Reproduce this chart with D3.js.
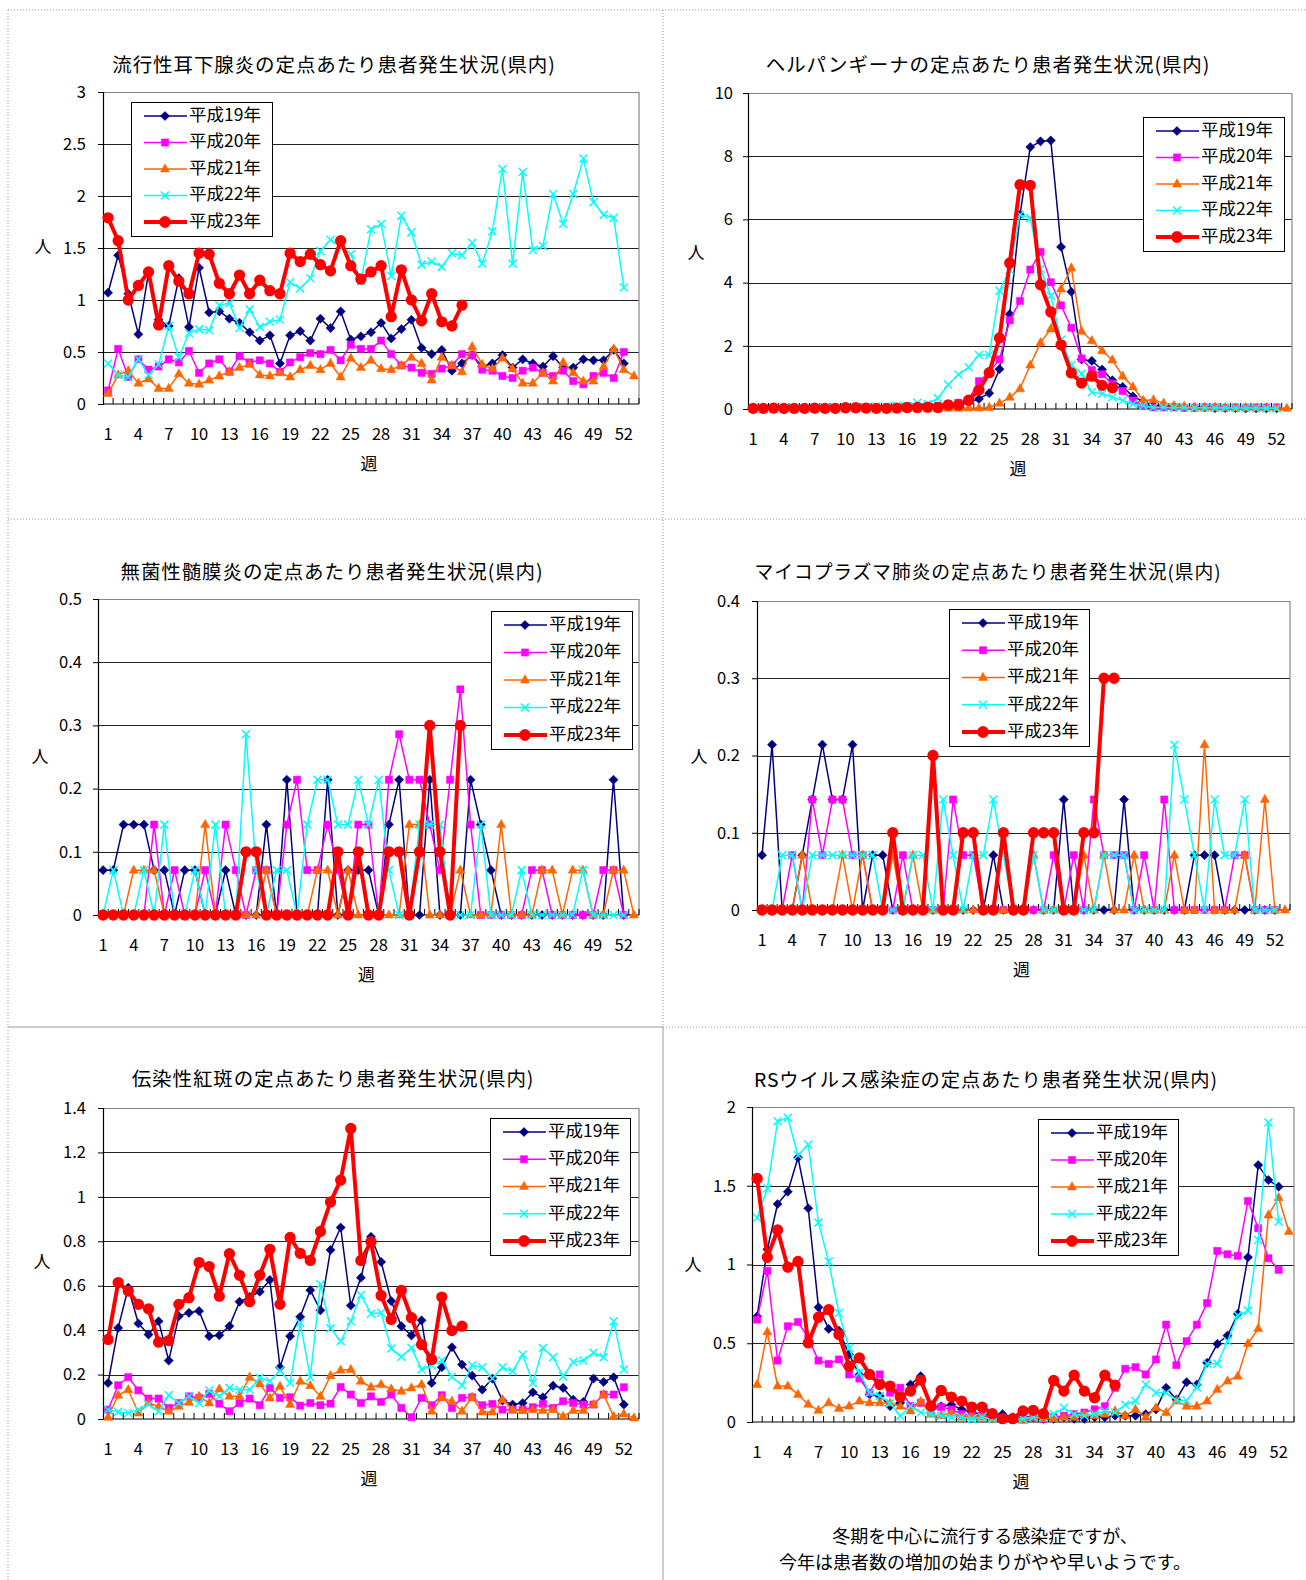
<!DOCTYPE html>
<html><head><meta charset="utf-8">
<script src="https://cdn.jsdelivr.net/npm/d3@7"></script>
<style>
body{margin:0;background:#fff;}
svg text{font-family:"Noto Sans CJK JP","Noto Sans",sans-serif;fill:#000;}
</style></head><body>
<svg id="c" width="1306" height="1580"></svg>
<script>
// ---------- data ----------
const weeks = d3.range(1, 54);
const xTickWeeks = [1,4,7,10,13,16,19,22,25,28,31,34,37,40,43,46,49,52];
const years = ["平成19年","平成20年","平成21年","平成22年","平成23年"];

// 流行性耳下腺炎
const mumpsH19 = [1.07,1.43,1.06,0.67,1.26,0.81,0.75,1.21,0.74,1.31,0.88,0.89,0.82,0.78,0.69,0.61,0.66,0.39,0.66,0.70,0.61,0.82,0.73,0.89,0.62,0.65,0.69,0.78,0.63,0.72,0.81,0.54,0.48,0.52,0.32,0.39,0.47,0.36,0.39,0.47,0.35,0.43,0.39,0.36,0.46,0.35,0.35,0.43,0.42,0.42,0.52,0.39];
const mumpsH20 = [0.13,0.53,0.26,0.43,0.33,0.36,0.43,0.40,0.51,0.30,0.39,0.43,0.31,0.46,0.40,0.42,0.39,0.31,0.40,0.45,0.49,0.48,0.52,0.42,0.57,0.53,0.53,0.61,0.48,0.37,0.35,0.30,0.29,0.34,0.37,0.48,0.47,0.33,0.32,0.27,0.25,0.32,0.35,0.30,0.27,0.32,0.22,0.19,0.27,0.30,0.25,0.50];
const mumpsH21 = [0.10,0.28,0.32,0.20,0.24,0.15,0.15,0.29,0.20,0.19,0.23,0.27,0.31,0.35,0.38,0.28,0.27,0.30,0.26,0.33,0.37,0.33,0.39,0.26,0.44,0.35,0.42,0.34,0.33,0.37,0.45,0.39,0.23,0.45,0.37,0.31,0.55,0.38,0.34,0.44,0.34,0.20,0.20,0.30,0.22,0.40,0.30,0.22,0.22,0.36,0.53,0.33,0.27];
const mumpsH22 = [0.39,0.28,0.26,0.43,0.28,0.38,0.75,0.45,0.68,0.72,0.71,0.95,0.97,0.73,0.91,0.74,0.79,0.81,1.17,1.11,1.21,1.47,1.58,1.51,1.44,1.18,1.68,1.73,1.23,1.81,1.65,1.34,1.37,1.32,1.45,1.43,1.55,1.35,1.66,2.26,1.35,2.23,1.48,1.52,2.02,1.73,2.02,2.36,1.94,1.82,1.79,1.12];
const mumpsH23 = [1.79,1.57,1.0,1.14,1.27,0.76,1.33,1.18,1.06,1.45,1.44,1.16,1.06,1.24,1.06,1.19,1.09,1.06,1.45,1.37,1.44,1.34,1.28,1.57,1.33,1.20,1.27,1.33,0.84,1.29,1.0,0.8,1.06,0.79,0.75,0.95];

// ヘルパンギーナ
const herpH19 = [0,0,0,0,0.02,0.02,0,0.02,0.02,0.03,0.03,0.02,0.02,0.02,0.03,0.03,0.05,0.05,0.05,0.08,0.12,0.2,0.32,0.5,1.26,3.0,6.15,8.29,8.47,8.5,5.13,3.71,1.57,1.52,1.25,0.91,0.7,0.4,0.24,0.12,0.1,0.08,0.06,0.05,0.05,0.03,0.03,0.03,0.02,0.02,0.02,0.02];
const herpH20 = [0,0,0,0,0,0.02,0,0.02,0.02,0.02,0.03,0.03,0.02,0.02,0.03,0.05,0.05,0.05,0.1,0.15,0.2,0.3,0.88,1.15,1.57,2.81,3.42,4.41,4.97,4.01,3.28,2.57,1.6,1.23,1.1,0.8,0.57,0.27,0.12,0.05,0.05,0.05,0.04,0.04,0.05,0.05,0.04,0.05,0.04,0.05,0.05,0.05];
const herpH21 = [0,0,0,0,0,0,0,0,0,0,0,0,0,0,0,0,0,0,0,0.02,0.02,0.03,0.03,0.05,0.18,0.37,0.64,1.39,2.1,2.53,3.8,4.46,2.46,2.16,1.84,1.55,1.04,0.7,0.27,0.29,0.18,0.1,0.08,0.05,0.04,0.05,0.04,0.03,0.04,0.03,0.04,0.03,0.02];
const herpH22 = [0.03,0.03,0.03,0.03,0.03,0.03,0.03,0.05,0.05,0.05,0.05,0.05,0.08,0.08,0.1,0.1,0.2,0.16,0.34,0.77,1.09,1.32,1.71,1.71,3.74,4.4,6.15,6.04,4.44,3.58,2.19,1.39,1.12,0.53,0.48,0.37,0.27,0.16,0.1,0.05,0.05,0.04,0.05,0.04,0.04,0.03,0.04,0.03,0.03,0.03,0.02,0.02];
const herpH23 = [0.02,0.02,0.03,0.02,0.02,0.02,0.03,0.02,0.02,0.04,0.04,0.03,0.02,0.02,0.03,0.05,0.05,0.06,0.05,0.13,0.13,0.28,0.6,1.15,2.25,4.62,7.1,7.08,3.93,3.07,2.03,1.14,0.82,1.04,0.75,0.67];

// 無菌性髄膜炎
const menH19 = [0.071,0.071,0.143,0.143,0.143,0.071,0.071,0,0.071,0.071,0,0,0.071,0,0,0,0.143,0,0.214,0,0,0,0.214,0,0.071,0.071,0.071,0,0.143,0.214,0,0,0.214,0,0,0,0.214,0.143,0.071,0,0,0,0,0,0,0,0,0,0,0,0.214,0];
const menH20 = [0,0,0,0,0,0.143,0,0.071,0,0,0.071,0,0.143,0.071,0,0.071,0.071,0,0.143,0.214,0.071,0.071,0.143,0.071,0,0.143,0.143,0,0.214,0.286,0.214,0.214,0.143,0.071,0.214,0.357,0.143,0,0,0,0,0,0.071,0.071,0,0,0,0,0,0.071,0.071,0];
const menH21 = [0,0,0,0.071,0.071,0.071,0,0,0,0,0.143,0,0,0,0,0,0.071,0,0,0,0,0.071,0.071,0,0.071,0,0,0,0,0,0.143,0.143,0,0,0,0.071,0,0,0,0.143,0,0,0,0.071,0.071,0,0.071,0.071,0,0,0.071,0.071,0];
const menH22 = [0,0.071,0,0,0.071,0,0.143,0,0,0.071,0,0.143,0,0,0.286,0.071,0,0.071,0.071,0,0.143,0.214,0.214,0.143,0.143,0.214,0.143,0.214,0.071,0,0,0.143,0.143,0.143,0,0,0,0.143,0,0,0,0.071,0,0,0,0,0,0.071,0,0,0,0];
const menH23 = [0,0,0,0,0,0,0,0,0,0,0,0,0,0,0.1,0.1,0,0,0,0,0,0,0,0.1,0,0.1,0,0,0.1,0.1,0,0.1,0.3,0.1,0,0.3];

// マイコプラズマ肺炎
const mycoH19 = [0.071,0.214,0,0,0.071,0.143,0.214,0.143,0.143,0.214,0,0.071,0.071,0,0,0,0,0,0,0,0,0,0,0.071,0,0,0,0,0,0,0.143,0,0,0,0,0,0.143,0,0,0,0,0,0,0.071,0.071,0.071,0,0,0,0,0,0];
const mycoH20 = [0,0,0,0.071,0,0.143,0.071,0.143,0.143,0.071,0.071,0,0,0,0.071,0,0,0,0,0.143,0.071,0.071,0,0,0,0,0,0,0,0.071,0,0.071,0,0.143,0.071,0.071,0.071,0,0.071,0,0.143,0,0,0,0,0,0,0.071,0.071,0,0,0];
const mycoH21 = [0,0,0,0,0.071,0,0,0,0.071,0,0.071,0,0,0.071,0,0.071,0,0,0,0,0,0,0,0,0,0,0,0.071,0,0,0,0,0.071,0,0.071,0,0,0.071,0,0,0,0.071,0,0,0.214,0,0,0,0.071,0,0.143,0,0];
const mycoH22 = [0,0,0.071,0.071,0,0.071,0.071,0.071,0.071,0.071,0.071,0.071,0,0,0,0.071,0.071,0,0.143,0.071,0,0.071,0.071,0.143,0.071,0,0,0.071,0,0,0,0,0,0,0.071,0.071,0.071,0,0,0,0,0.214,0.143,0.071,0,0.143,0.071,0.071,0.143,0,0,0];
const mycoH23 = [0,0,0,0,0,0,0,0,0,0,0,0,0,0.1,0,0,0,0.2,0,0,0.1,0.1,0,0,0.1,0,0,0.1,0.1,0.1,0,0,0.1,0.1,0.3,0.3];

// 伝染性紅斑
const eryH19 = [0.162,0.41,0.591,0.43,0.38,0.44,0.263,0.463,0.478,0.486,0.373,0.377,0.418,0.528,0.55,0.573,0.626,0.233,0.373,0.46,0.58,0.489,0.761,0.862,0.511,0.636,0.82,0.707,0.531,0.418,0.376,0.444,0.162,0.233,0.323,0.245,0.195,0.132,0.182,0.083,0.065,0.072,0.12,0.098,0.15,0.14,0.087,0.077,0.182,0.167,0.188,0.065];
const eryH20 = [0.042,0.152,0.188,0.129,0.092,0.092,0.05,0.072,0.102,0.095,0.113,0.069,0.035,0.072,0.092,0.062,0.14,0.095,0.098,0.06,0.072,0.062,0.069,0.144,0.11,0.072,0.102,0.077,0.11,0.05,0.008,0.095,0.062,0.107,0.05,0.095,0.098,0.062,0.068,0.042,0.042,0.042,0.053,0.068,0.05,0.08,0.072,0.065,0.065,0.11,0.11,0.143];
const eryH21 = [0.008,0.107,0.132,0.027,0.072,0.057,0.035,0.057,0.075,0.102,0.072,0.135,0.102,0.102,0.188,0.158,0.095,0.147,0.065,0.17,0.15,0.102,0.195,0.22,0.223,0.17,0.143,0.155,0.135,0.125,0.14,0.155,0.035,0.095,0.08,0.035,0.098,0.032,0.032,0.087,0.042,0.038,0.042,0.038,0.042,0.012,0.038,0.038,0.065,0.11,0.012,0.023,0.005];
const eryH22 = [0.042,0.032,0.027,0.042,0.065,0.035,0.107,0.072,0.102,0.072,0.128,0.102,0.14,0.132,0.132,0.185,0.17,0.218,0.162,0.433,0.188,0.606,0.408,0.35,0.44,0.558,0.474,0.478,0.317,0.28,0.32,0.223,0.242,0.263,0.19,0.152,0.242,0.233,0.182,0.233,0.215,0.29,0.162,0.32,0.278,0.192,0.257,0.263,0.298,0.278,0.44,0.223];
const eryH23 = [0.358,0.614,0.576,0.516,0.496,0.346,0.353,0.516,0.546,0.704,0.686,0.553,0.744,0.647,0.528,0.647,0.764,0.516,0.817,0.746,0.714,0.844,0.977,1.075,1.308,0.714,0.798,0.556,0.448,0.579,0.456,0.335,0.268,0.549,0.398,0.418];

// RSウイルス感染症
const rsH19 = [0.671,1.097,1.384,1.462,1.679,1.357,0.728,0.591,0.58,0.428,0.3,0.175,0.165,0.101,0.122,0.238,0.291,0.09,0.1,0.11,0.08,0.06,0.05,0.04,0.05,0.03,0.03,0.03,0.02,0.02,0.03,0.02,0.02,0.03,0.03,0.04,0.04,0.04,0.05,0.08,0.217,0.143,0.253,0.238,0.376,0.496,0.549,0.686,1.046,1.631,1.536,1.494];
const rsH20 = [0.65,0.96,0.39,0.608,0.635,0.534,0.39,0.369,0.397,0.302,0.276,0.186,0.302,0.186,0.217,0.101,0.122,0.07,0.095,0.08,0.05,0.04,0.04,0.03,0.02,0.02,0.03,0.03,0.02,0.03,0.04,0.05,0.06,0.08,0.1,0.217,0.338,0.348,0.302,0.397,0.618,0.361,0.513,0.618,0.755,1.086,1.065,1.055,1.403,1.23,1.04,0.966];
const rsH21 = [0.238,0.572,0.228,0.228,0.175,0.112,0.074,0.122,0.086,0.101,0.133,0.122,0.122,0.12,0.1,0.07,0.13,0.05,0.04,0.06,0.03,0.04,0.03,0.02,0.02,0.02,0.01,0.03,0.02,0.02,0.03,0.03,0.05,0.04,0.05,0.07,0.04,0.08,0.03,0.09,0.06,0.133,0.1,0.1,0.133,0.207,0.26,0.291,0.498,0.593,1.314,1.424,1.209];
const rsH22 = [1.297,1.483,1.909,1.932,1.694,1.762,1.266,1.019,0.692,0.47,0.312,0.186,0.165,0.12,0.038,0.1,0.06,0.05,0.04,0.03,0.03,0.02,0.03,0.02,0.02,0.02,0.02,0.03,0.03,0.05,0.09,0.05,0.04,0.05,0.07,0.06,0.11,0.133,0.238,0.186,0.186,0.137,0.137,0.22,0.37,0.37,0.513,0.677,0.707,1.156,1.901,1.272];
const rsH23 = [1.546,1.046,1.219,0.983,1.019,0.502,0.665,0.713,0.555,0.354,0.407,0.302,0.238,0.228,0.158,0.196,0.266,0.101,0.2,0.158,0.133,0.095,0.095,0.053,0.021,0.021,0.07,0.074,0.053,0.264,0.196,0.297,0.196,0.154,0.297,0.234];

const titles = [
  "流行性耳下腺炎の定点あたり患者発生状況(県内)",
  "ヘルパンギーナの定点あたり患者発生状況(県内)",
  "無菌性髄膜炎の定点あたり患者発生状況(県内)",
  "マイコプラズマ肺炎の定点あたり患者発生状況(県内)",
  "伝染性紅斑の定点あたり患者発生状況(県内)",
  "RSウイルス感染症の定点あたり患者発生状況(県内)"
];
const yTicks1 = [0,0.5,1,1.5,2,2.5,3];
const yTicks2 = [0,2,4,6,8,10];
const yTicks3 = [0,0.1,0.2,0.3,0.4,0.5];
const yTicks4 = [0,0.1,0.2,0.3,0.4];
const yTicks5 = [0,0.2,0.4,0.6,0.8,1,1.2,1.4];
const yTicks6 = [0,0.5,1,1.5,2];
const noteLines = ["冬期を中心に流行する感染症ですが、","今年は患者数の増加の始まりがやや早いようです。"];

// ---------- layout / style ----------
const colors = ["#000080","#FF00FF","#FF6600","#00FFFF","#FF0000"];
const markerKinds = ["diamond","square","triangle","x","circle"];
const panels = [
  {series:[mumpsH19,mumpsH20,mumpsH21,mumpsH22,mumpsH23], title:titles[0], ticks:yTicks1, tSize:19.5,
   left:103,right:639,y0:404,yTop:92,titleX:334,titleY:67,ylab:[43,248],tickDx:17,leg:[131,102,141,134]},
  {series:[herpH19,herpH20,herpH21,herpH22,herpH23], title:titles[1], ticks:yTicks2, tSize:19.5,
   left:748,right:1292,y0:409,yTop:93,titleX:988,titleY:67,ylab:[696,254],tickDx:15,leg:[1143,117,141,134]},
  {series:[menH19,menH20,menH21,menH22,menH23], title:titles[2], ticks:yTicks3, tSize:19.5,
   left:98,right:639,y0:915,yTop:599,titleX:332,titleY:574,ylab:[40,758],tickDx:16,leg:[491,611,141,138]},
  {series:[mycoH19,mycoH20,mycoH21,mycoH22,mycoH23], title:titles[3], ticks:yTicks4, tSize:18.8,
   left:757,right:1290,y0:910,yTop:601,titleX:988,titleY:574,ylab:[699,758],tickDx:17,leg:[949,609,140,137]},
  {series:[eryH19,eryH20,eryH21,eryH22,eryH23], title:titles[4], ticks:yTicks5, tSize:19.5,
   left:103,right:639,y0:1419,yTop:1108,titleX:333,titleY:1081,ylab:[42,1263],tickDx:17,leg:[490,1118,140,137]},
  {series:[rsH19,rsH20,rsH21,rsH22,rsH23], title:titles[5], ticks:yTicks6, tSize:19.3,
   left:752,right:1294,y0:1422,yTop:1107,titleX:986,titleY:1082,ylab:[693,1266],tickDx:16,leg:[1038,1119,140,136]}
];

const svg = d3.select("#c");

// page frame (dotted cell borders)
const frame = svg.append("g").attr("stroke","#999").attr("stroke-width",1).attr("fill","none");
[[8,10,1306,10,true],[8,10,8,1580,true],[663,10,663,1027,true],[8,519,1306,519,true],
 [663,1027,1306,1027,true],[8,1027,663,1027,false],[663,1027,663,1580,false]].forEach(l=>{
  frame.append("line").attr("x1",l[0]).attr("y1",l[1]).attr("x2",l[2]).attr("y2",l[3])
    .attr("stroke-dasharray",l[4]?"1,2":null);
});

function markerPath(kind){
  switch(kind){
    case "diamond": return "M0,-4.6L4.6,0L0,4.6L-4.6,0Z";
    case "square": return "M-3.6,-3.6h7.2v7.2h-7.2Z";
    case "triangle": return "M0,-5.2L4.6,3L-4.6,3Z";
    case "x": return "M-4,-4L4,4M-4,4L4,-4";
    default: return d3.symbol(d3.symbolCircle, 100)();
  }
}

panels.forEach(p=>{
  const g = svg.append("g");
  const x = d3.scaleBand().domain(weeks).range([p.left,p.right]);
  const cx = w => x(w) + x.bandwidth()/2;
  const yMax = p.ticks[p.ticks.length-1];
  const y = d3.scaleLinear().domain([0,yMax]).range([p.y0,p.yTop]);

  // gridlines
  g.append("g").selectAll("line").data(p.ticks.filter(t=>t>0 && t<yMax)).join("line")
    .attr("x1",p.left).attr("x2",p.right).attr("y1",d=>Math.round(y(d))+0.5).attr("y2",d=>Math.round(y(d))+0.5)
    .attr("stroke","#222").attr("stroke-width",1);
  // plot border (top/right gray)
  g.append("path").attr("d",`M${p.left},${Math.round(p.yTop)+0.5}H${p.right}V${p.y0}`)
    .attr("fill","none").attr("stroke","#888").attr("stroke-width",1.2);

  // y axis
  const ya = g.append("g").attr("transform",`translate(${p.left},0)`)
    .call(d3.axisLeft(y).tickValues(p.ticks).tickSize(5).tickPadding(p.tickDx-5).tickFormat(d=>String(d)));
  ya.select(".domain").attr("stroke","#000").attr("stroke-width",1.2);
  ya.selectAll(".tick line").attr("stroke","#000");
  ya.selectAll("text").attr("font-size",16.5).attr("font-family",'"Noto Sans CJK JP"');

  // x axis baseline and category ticks
  g.append("line").attr("x1",p.left).attr("x2",p.right).attr("y1",p.y0).attr("y2",p.y0)
    .attr("stroke","#000").attr("stroke-width",1.2);
  g.append("g").selectAll("line").data(weeks).join("line")
    .attr("x1",d=>x(d)+x.bandwidth()).attr("x2",d=>x(d)+x.bandwidth())
    .attr("y1",p.y0-6).attr("y2",p.y0).attr("stroke","#000").attr("stroke-width",1);
  const xa = g.append("g").attr("transform",`translate(0,${p.y0})`)
    .call(d3.axisBottom(x).tickValues(xTickWeeks).tickSize(0).tickPadding(24));
  xa.select(".domain").remove();
  xa.selectAll("text").attr("font-size",16.5).attr("font-family",'"Noto Sans CJK JP"');

  // axis titles
  g.append("text").attr("x",(p.left+p.right)/2-2).attr("y",p.y0+61).attr("text-anchor","middle")
    .attr("dominant-baseline","middle").attr("font-size",17).text("週");
  g.append("text").attr("x",p.ylab[0]).attr("y",p.ylab[1]).attr("text-anchor","middle")
    .attr("dominant-baseline","middle").attr("font-size",17).text("人");
  // title
  g.append("text").attr("x",p.titleX).attr("y",p.titleY).attr("text-anchor","middle")
    .attr("dominant-baseline","middle").attr("font-size",p.tSize).attr("letter-spacing",0.9).text(p.title);

  // series
  p.series.forEach((vals,i)=>{
    const pts = vals.map((v,k)=>[weeks[k],v]);
    const line = d3.line().x(d=>cx(d[0])).y(d=>y(d[1]));
    const sg = g.append("g");
    sg.append("path").attr("d",line(pts)).attr("fill","none").attr("stroke",colors[i])
      .attr("stroke-width", i===4?4:1.5).attr("stroke-linejoin","round");
    const kind = markerKinds[i];
    sg.selectAll("path.m").data(pts).join("path").attr("class","m")
      .attr("d",markerPath(kind))
      .attr("transform",d=>`translate(${cx(d[0])},${y(d[1])})`)
      .attr("fill",kind==="x"?"none":colors[i])
      .attr("stroke",colors[i]).attr("stroke-width",kind==="x"?1.5:(kind==="circle"?0:0.5));
  });

  // legend
  const [lx,ly,lw,lh] = p.leg;
  const lg = g.append("g");
  lg.append("rect").attr("x",lx+0.5).attr("y",ly+0.5).attr("width",lw).attr("height",lh)
    .attr("fill","#fff").attr("stroke","#000").attr("stroke-width",1);
  const step = (lh-28)/4;
  years.forEach((name,i)=>{
    const yy = ly+14+i*step;
    lg.append("line").attr("x1",lx+13).attr("x2",lx+56).attr("y1",yy).attr("y2",yy)
      .attr("stroke",colors[i]).attr("stroke-width",i===4?4:1.5);
    lg.append("path").attr("d",markerPath(markerKinds[i])).attr("transform",`translate(${lx+34},${yy})`)
      .attr("fill",markerKinds[i]==="x"?"none":colors[i]).attr("stroke",colors[i])
      .attr("stroke-width",markerKinds[i]==="x"?1.5:0.5);
    lg.append("text").attr("x",lx+58).attr("y",yy).attr("dominant-baseline","middle")
      .attr("font-size",17.5).text(name);
  });
});

// note text
noteLines.forEach((t,i)=>{
  svg.append("text").attr("x",985).attr("y",1538+i*26.5).attr("text-anchor","middle")
    .attr("dominant-baseline","middle").attr("font-size",18).text(t);
});
</script>
</body></html>
